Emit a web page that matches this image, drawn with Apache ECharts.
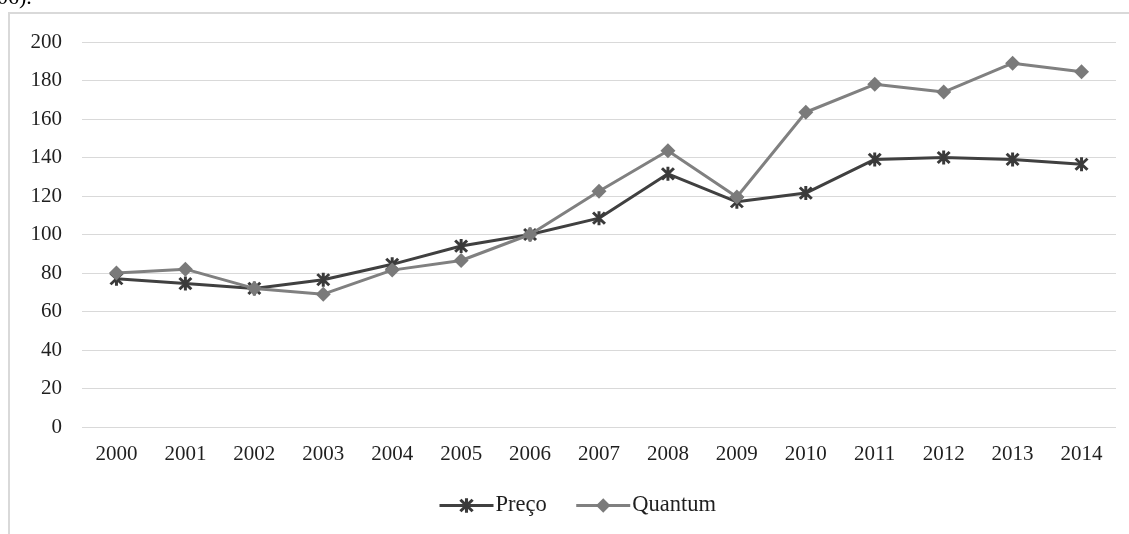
<!DOCTYPE html>
<html>
<head>
<meta charset="utf-8">
<script src="https://cdn.jsdelivr.net/npm/echarts@6/dist/echarts.min.js"></script>
<style>
  html, body { margin: 0; padding: 0; background: #fff; }
  #chart { width: 1129px; height: 534px; }
</style>
</head>
<body>
<div id="chart"></div>
<script>
// Índices anuais de preço e quantum
const years = ['2000', '2001', '2002', '2003', '2004', '2005', '2006', '2007',
               '2008', '2009', '2010', '2011', '2012', '2013', '2014'];
const preco = [77, 74.5, 72, 76.5, 84.5, 94, 100, 108.5, 131.5, 117, 121.5, 139, 140, 139, 136.5];
const quantum = [80, 82, 72, 69, 81.5, 86.5, 100, 122.5, 143.5, 119.5, 163.5, 178, 174, 189, 184.5];
const yTicks = { min: 0, max: 200, step: 20 };

// Asterisk-shaped marker: vertical bar plus two diagonals, all wound the same way
const starPath = 'path://M8,0 L12,0 L12,20 L8,20 Z ' +
  'M3.41,0.59 L19.41,16.59 L16.59,19.41 L0.59,3.41 Z ' +
  'M19.41,3.41 L3.41,19.41 L0.59,16.59 L16.59,0.59 Z';

const font = '"Liberation Serif", "Times New Roman", serif';
const textColor = '#1f1f1f';

const chart = echarts.init(document.getElementById('chart'), null, { renderer: 'canvas' });
chart.setOption({
  animation: false,
  backgroundColor: '#fff',
  textStyle: { fontFamily: font },
  grid: { left: 82, right: 13, top: 42, bottom: 107, containLabel: false },
  graphic: [
    {
      type: 'rect',
      shape: { x: 9, y: 13, width: 1200, height: 600 },
      style: { fill: 'none', stroke: '#d9d9d9', lineWidth: 2 },
      silent: true
    },
    {
      type: 'text',
      left: -3,
      top: -13,
      style: { text: '06).', font: '22px ' + font, fill: '#000' },
      silent: true
    }
  ],
  legend: {
    bottom: 17,
    left: 438,
    padding: 0,
    itemWidth: 54,
    itemHeight: 18,
    itemGap: 28,
    lineStyle: { width: 3 },
    textStyle: { fontFamily: font, fontSize: 22.5, color: textColor, padding: [0, 0, 0, -3] },
    data: ['Preço', 'Quantum']
  },
  xAxis: {
    type: 'category',
    data: years,
    boundaryGap: true,
    axisLine: { show: false },
    axisTick: { show: false },
    axisLabel: { fontFamily: font, fontSize: 21, color: textColor, margin: 17 }
  },
  yAxis: {
    type: 'value',
    min: yTicks.min,
    max: yTicks.max,
    interval: yTicks.step,
    axisLine: { show: false },
    axisTick: { show: false },
    axisLabel: { fontFamily: font, fontSize: 21, color: textColor, margin: 20 },
    splitLine: { lineStyle: { color: '#d9d9d9', width: 1.2 } }
  },
  series: [
    {
      name: 'Preço',
      type: 'line',
      data: preco,
      symbol: starPath,
      symbolSize: 14,
      showAllSymbol: true,
      lineStyle: { color: '#404040', width: 3 },
      itemStyle: { color: '#3a3a3a' },
      z: 2
    },
    {
      name: 'Quantum',
      type: 'line',
      data: quantum,
      symbol: 'diamond',
      symbolSize: 15,
      showAllSymbol: true,
      lineStyle: { color: '#808080', width: 3 },
      itemStyle: { color: '#7a7a7a' },
      z: 3
    }
  ]
});
</script>
</body>
</html>
